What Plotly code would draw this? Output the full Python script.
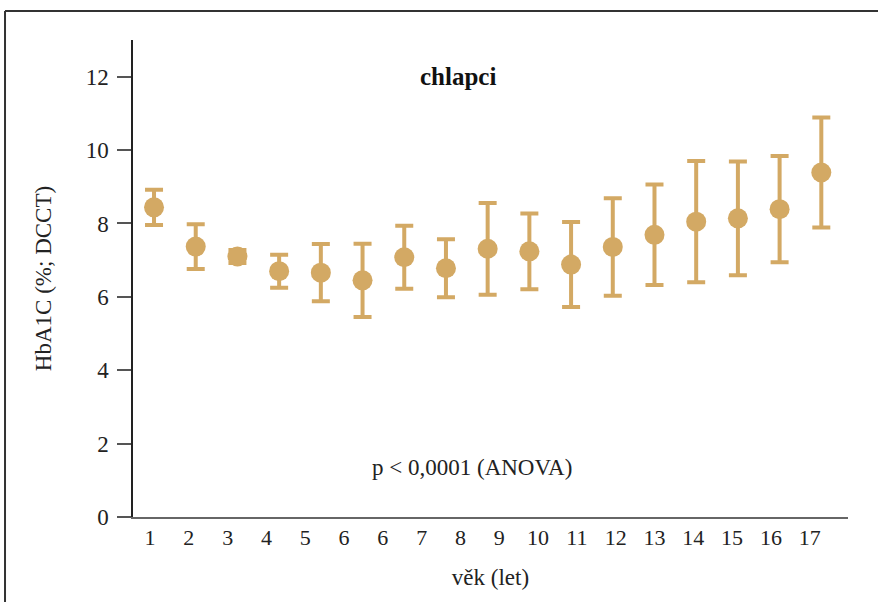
import plotly.graph_objects as go

# Data
ages = list(range(1, 18))
hba1c_mean = [8.44, 7.37, 7.10, 6.70, 6.66, 6.45, 7.08, 6.78, 7.31, 7.24, 6.88, 7.36, 7.69, 8.05, 8.14, 8.39, 9.39]
hba1c_err = [0.48, 0.61, 0.18, 0.45, 0.78, 1.00, 0.86, 0.79, 1.25, 1.03, 1.16, 1.33, 1.37, 1.65, 1.55, 1.45, 1.50]
x_tick_labels = ["1", "2", "3", "4", "5", "6", "6", "7", "8", "9", "10", "11", "12", "13", "14", "15", "16", "17"]
y_ticks = [0, 2, 4, 6, 8, 10, 12]

COLOR = "#D3A964"
FONT = "Liberation Serif"

# label positions (the labels in the source are spaced slightly tighter than the points)
tick_pos = [0.904 + k * 0.9305 for k in range(len(x_tick_labels))]

fig = go.Figure()
fig.add_trace(go.Scatter(
    x=ages, y=hba1c_mean, mode="markers",
    marker=dict(size=20, color=COLOR, line=dict(width=0)),
    error_y=dict(type="data", array=hba1c_err, visible=True,
                 color=COLOR, thickness=4, width=9),
    showlegend=False, cliponaxis=False,
))

fig.update_layout(
    width=878, height=602,
    margin=dict(l=133, r=30, t=40, b=85),
    paper_bgcolor="white", plot_bgcolor="white",
    font=dict(family=FONT, size=22, color="#222222"),
    xaxis=dict(
        range=[0.496, 17.64], showgrid=False, zeroline=False,
        showline=True, linecolor="#666666", linewidth=2,
        tickmode="array", tickvals=tick_pos, ticktext=x_tick_labels,
        ticks="", tickfont=dict(family=FONT, size=22, color="#222222"),
        title=dict(text="věk (let)", font=dict(family=FONT, size=23, color="#222222"), standoff=19),
        fixedrange=True,
    ),
    yaxis=dict(
        range=[0, 13], showgrid=False, zeroline=False,
        showline=True, linecolor="#222222", linewidth=1.5,
        tickmode="array", tickvals=y_ticks,
        ticks="outside", ticklen=14, tickwidth=1.5, tickcolor="#555555",
        ticklabelstandoff=4,
        tickfont=dict(family=FONT, size=23, color="#222222"),
        title=dict(text="HbA1C (%; DCCT)", font=dict(family=FONT, size=23, color="#222222"), standoff=28),
        fixedrange=True,
    ),
    annotations=[
        dict(text="<b>chlapci</b>", x=0.455, xref="paper", y=12.0, yref="y",
             showarrow=False, font=dict(family=FONT, size=25, color="#111111")),
        dict(text="p < 0,0001 (ANOVA)", x=0.474, xref="paper", y=1.34, yref="y",
             showarrow=False, font=dict(family=FONT, size=23, color="#222222")),
    ],
    shapes=[
        dict(type="line", xref="paper", yref="paper", x0=-0.179, x1=1.05, y0=1.0608, y1=1.0608,
             line=dict(color="#333333", width=2)),
        dict(type="line", xref="paper", yref="paper", x0=-0.179, x1=-0.179, y0=1.0608, y1=-0.19,
             line=dict(color="#333333", width=2)),
    ],
)

fig.write_html("out.html")
